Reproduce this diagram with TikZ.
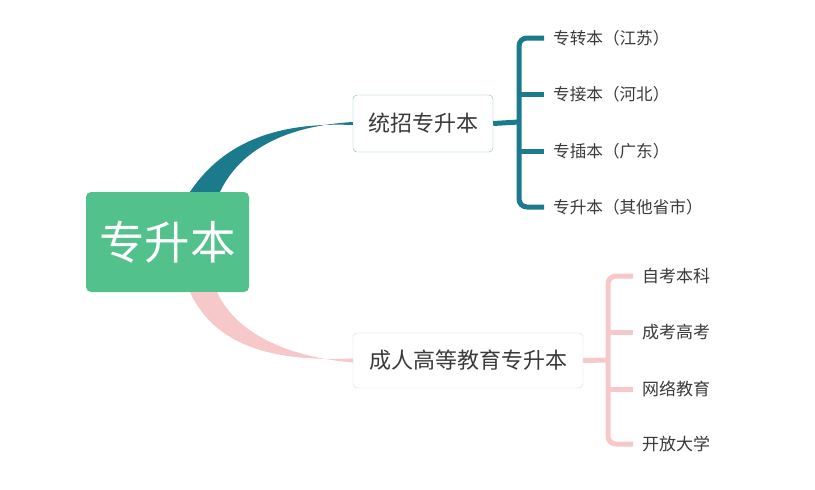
\documentclass[tikz,border=0pt]{standalone}
\usepackage{fontspec}
\setmainfont{Noto Sans CJK SC}
\definecolor{rootgreen}{HTML}{52C18C}
\definecolor{tealline}{HTML}{1C7A8D}
\definecolor{pinkline}{HTML}{F6C8CA}
\definecolor{textgray}{HTML}{3A3A3A}
\tikzset{
	topic/.style={draw, rounded corners=4pt, fill=white, text=textgray, inner sep=0pt},
	leaf/.style={anchor=west, inner xsep=9pt, inner ysep=0pt, text=textgray, font=\fontsize{16.6}{18}\selectfont},
	upline/.style={draw=tealline, line width=5pt, rounded corners=8pt},
	lowline/.style={draw=pinkline, line width=5pt, rounded corners=8pt}
}
\begin{document}
\begin{tikzpicture}[x=1pt, y=-1pt]

	\useasboundingbox (0,0) rectangle (815,490);

	% root and the two topics
	\node[fill=rootgreen, rounded corners=5pt, minimum width=163pt, minimum height=100pt, text=white, font=\fontsize{45.5}{48}\selectfont] (root) at (167.5,242) {专升本};
	\node[topic, draw=tealline!55, minimum width=140pt, minimum height=57pt, font=\fontsize{22}{24}\selectfont] (tz) at (423,123.5) {统招专升本};
	\node[topic, draw=black!15, minimum width=230pt, minimum height=55pt, font=\fontsize{22}{24}\selectfont] (cr) at (468,360.5) {成人高等教育专升本};

	% tapered branches
	\fill[tealline] ([xshift=22.5pt]root.north) .. controls (225,140) and (280,122) .. ([yshift=-1.5pt]tz.west)
		-- ([yshift=1.5pt]tz.west) .. controls (285,126) and (240,150) .. ([xshift=52.5pt]root.north) -- cycle;
	\fill[pinkline] ([xshift=22.5pt]root.south) .. controls (215,345) and (270,362) .. ([yshift=2pt]cr.west)
		-- ([yshift=-2pt]cr.west) .. controls (280,356) and (235,330) .. ([xshift=49.5pt]root.south) -- cycle;

	% upper leaves
	\node[leaf] (z1) at (544,38) {专转本（江苏）};
	\node[leaf] (z2) at (544,94) {专接本（河北）};
	\node[leaf] (z3) at (544,151) {专插本（广东）};
	\node[leaf] (z4) at (544,207) {专升本（其他省市）};
	\coordinate (ub) at (519,122);
	\draw[upline] (z1.west) -| (ub) |- (z4.west);
	\draw[upline] (z2.west) -- (ub |- z2.west);
	\draw[upline] (z3.west) -- (ub |- z3.west);
	\draw[upline] (tz.east) -- (ub);

	% lower leaves
	\node[leaf, font=\fontsize{17}{18}\selectfont] (c1) at (633,276) {自考本科};
	\node[leaf, font=\fontsize{17}{18}\selectfont] (c2) at (633,332) {成考高考};
	\node[leaf, font=\fontsize{17}{18}\selectfont] (c3) at (633,389) {网络教育};
	\node[leaf, font=\fontsize{17}{18}\selectfont] (c4) at (633,444) {开放大学};
	\coordinate (lb) at (608,360);
	\draw[lowline] (c1.west) -| (lb) |- (c4.west);
	\draw[lowline] (c2.west) -- (lb |- c2.west);
	\draw[lowline] (c3.west) -- (lb |- c3.west);
	\draw[lowline] (cr.east) -- (lb);
\end{tikzpicture}
\end{document}
